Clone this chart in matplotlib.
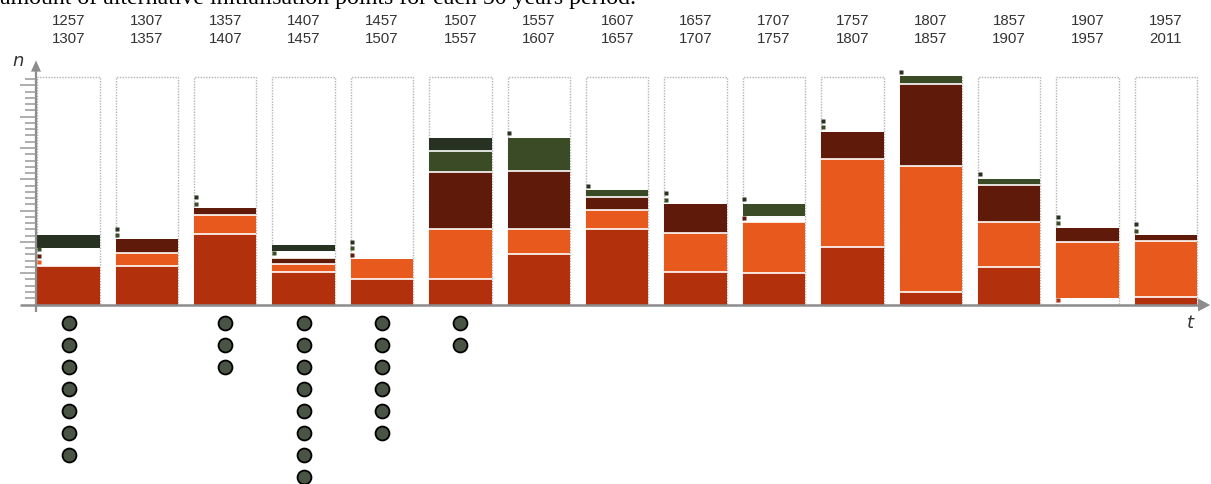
import matplotlib
matplotlib.use("Agg")
import matplotlib.pyplot as plt

# 50 year periods
period_start = [1257, 1307, 1357, 1407, 1457, 1507, 1557, 1607, 1657, 1707, 1757, 1807, 1857, 1907, 1957]
period_end = [1307, 1357, 1407, 1457, 1507, 1557, 1607, 1657, 1707, 1757, 1807, 1857, 1907, 1957, 2011]

# stacked values per period (bottom to top), 0 = category absent (small square marker)
red = [6.1, 6.15, 11.25, 5.15, 4.1, 4.1, 8.05, 12.0, 5.15, 5.1, 9.25, 1.95, 6.05, 0, 1.15]
orange = [0, 2.1, 3.1, 1.3, 3.15, 8.0, 4.05, 3.05, 6.3, 8.0, 14.05, 20.2, 7.15, 9.0, 8.95]
brown = [0, 2.15, 1.05, 1.05, 0, 9.1, 9.25, 2.2, 4.6, 0, 4.3, 13.0, 5.9, 2.25, 1.0]
green = [0, 0, 0, 0, 0, 3.3, 5.3, 1.0, 0, 2.0, 0, 1.3, 1.0, 0, 0]
dark_green = [2.0, 0, 0, 1.05, 0, 2.1, 0, 0, 0, 0, 0, 0, 0, 0, 0]

# number of alternative initialisation points per period
alt_points = [7, 0, 3, 8, 6, 2, 0, 0, 0, 0, 0, 0, 0, 0, 0]

box_max = 36.35
n_ticks = 36

colors = ["#b3300c", "#e8591d", "#5f1a0a", "#3a4b25", "#283222"]
series = [red, orange, brown, green, dark_green]

fig = plt.figure(figsize=(12.11, 4.84), dpi=100)
ax = fig.add_axes([0, 0, 1, 1])
ax.axis("off")
ax.set_xlim(-0.874, 14.575)
ax.set_ylim(-28.67, 48.64)

width = 0.796
xs = list(range(len(period_start)))

# dotted frame for every period
ax.bar(xs, [box_max] * len(xs), width=width, fill=False, edgecolor="#b4b4b4",
       linestyle=(0, (1, 1)), linewidth=1, zorder=1)

for i in xs:
    y = 0
    tops = []
    for vals, c in zip(series, colors):
        v = vals[i]
        if v > 0:
            ax.bar(i, v, bottom=y, width=width, color=c, linewidth=0, zorder=2)
            y += v
            tops.append(y)
        else:
            ax.plot(i - width / 2 + 0.02, y + 0.7, marker="s", ms=2.6, color=c,
                    mec="none", zorder=3)
            y += 1
    # white separators between segments
    for t in tops[:-1]:
        ax.hlines(t, i - width / 2, i + width / 2, color="white", lw=1.2, zorder=3)

# dots below the axis
for i, cnt in zip(xs, alt_points):
    for k in range(cnt):
        ax.plot(i, -3 - 3.5 * k, "o", ms=10, mfc="#4a5444", mec="black", mew=1.3, zorder=3)

# period labels
for i in xs:
    ax.text(i, 45.3, str(period_start[i]), ha="center", va="center", fontsize=10.8,
            color="#333333", family="Liberation Sans")
    ax.text(i, 42.4, str(period_end[i]), ha="center", va="center", fontsize=10.8,
            color="#333333", family="Liberation Sans")

# axes
axis_c = "#8c8c8c"
ax_x = -0.415
ax.plot([ax_x, ax_x], [-1.15, 37.3], color=axis_c, lw=1.6, zorder=4, solid_capstyle="butt")
ax.fill([ax_x - 0.064, ax_x + 0.064, ax_x], [37.2, 37.2, 39.0], color=axis_c, lw=0, zorder=4)
ax.plot([-0.619, 14.42], [-0.08, -0.08], color=axis_c, lw=1.8, zorder=4, solid_capstyle="butt")
ax.fill([14.41, 14.41, 14.565], [0.95, -1.11, -0.08], color=axis_c, lw=0, zorder=4)

for k in range(1, n_ticks + 1):
    x0 = -0.619 if k % 5 == 0 else -0.555
    ax.plot([x0, ax_x], [k, k], color="#999999", lw=1.1, zorder=4, solid_capstyle="butt")

ax.text(-0.65, 38.9, "n", ha="center", va="center", fontsize=13, style="italic", color="#333333")
ax.text(14.31, -2.9, "t", ha="center", va="center", fontsize=13, style="italic", color="#333333")

ax.text(-0.874, 48.0, "amount of alternative initialisation points for each 50 years period.",
        ha="left", va="baseline", fontsize=17.2, family="Liberation Serif", color="black")

fig.savefig("out.png", dpi=100)
